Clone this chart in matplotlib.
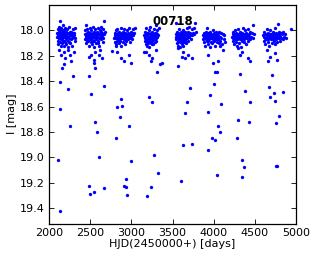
import numpy as np
import matplotlib
matplotlib.use("Agg")
import matplotlib.pyplot as plt

# light curve of star 00718, one list of (HJD-2450000, I mag) per observing season
season1 = [(2098,18.02),(2102,18.05),(2105,17.99),(2109,18.08),(2112,18.04),(2115,18.11),(2118,18.01),(2121,18.06),
           (2124,17.97),(2127,18.03),(2130,17.93),(2133,18.09),(2136,18.00),(2139,18.05),(2142,18.12),(2146,18.02),
           (2149,17.98),(2152,18.07),(2155,18.04),(2158,18.10),(2161,18.01),(2164,18.06),(2168,17.96),(2171,18.03),
           (2174,18.08),(2177,18.12),(2181,18.00),(2184,18.05),(2188,18.02),(2191,18.09),(2195,17.98),(2199,18.04),
           (2203,18.07),(2207,18.01),(2211,18.11),(2215,18.05),(2219,17.99),(2224,18.03),(2228,18.08),(2233,18.13),
           (2237,18.02),(2242,18.06),(2247,17.97),(2252,18.04),(2257,18.10),(2262,18.01),(2268,18.07),(2274,18.03),
           (2280,18.12),(2287,17.99),(2294,18.05),(2302,18.02),(2310,18.08),(2318,17.98),
           (2108,18.03),(2117,18.06),(2126,18.01),(2135,18.04),(2144,18.07),(2153,18.02),(2163,18.05),(2172,18.00),
           (2183,18.08),(2193,18.03),(2205,18.06),(2217,18.02),(2226,18.05),(2240,18.09),(2250,18.01),(2265,18.04),
           (2278,18.06),(2290,18.02),(2305,18.04),(2315,18.06),
           (2126,18.153),(2179,18.167),(2151,18.193),(2252,18.193),(2199,18.219),(2272,18.245),(2231,18.153),
           (2300,18.167),(2179,18.266),(2158,18.298),(2292,18.356),(2139,18.403),(2231,18.463),(2130,18.62),
           (2255,18.75),(2109,19.02),(2130,19.419)]

season2 = [(2432,18.03),(2436,18.07),(2440,18.00),(2446,17.96),(2449,18.05),(2453,18.10),(2457,18.02),(2461,18.06),
           (2465,17.99),(2469,18.04),(2473,18.08),(2477,18.01),(2481,18.12),(2485,18.05),(2489,18.03),(2493,17.98),
           (2497,18.07),(2501,18.02),(2505,18.09),(2509,18.04),(2513,18.00),(2517,18.06),(2521,18.11),(2525,18.03),
           (2529,17.97),(2533,18.05),(2537,18.08),(2541,18.01),(2545,18.04),(2549,18.13),(2553,18.06),(2557,18.02),
           (2561,17.99),(2565,18.07),(2569,18.04),(2573,18.10),(2577,18.01),(2581,18.05),(2586,18.03),(2590,17.98),
           (2595,18.08),(2600,18.02),(2605,18.06),(2610,18.12),(2615,18.00),(2620,18.04),(2626,17.97),(2632,18.07),
           (2638,18.02),(2644,18.05),(2650,17.99),(2656,18.09),(2662,18.03),(2669,17.93),(2676,18.01),
           (2444,18.04),(2458,18.08),(2472,18.03),(2487,18.06),(2499,18.04),(2511,18.07),(2527,18.05),(2539,18.02),
           (2551,18.08),(2563,18.03),(2575,18.06),(2588,18.04),(2598,18.10),(2612,18.03),(2624,18.06),(2636,18.01),
           (2648,18.04),(2660,18.06),
           (2483,18.206),(2516,18.193),(2564,18.167),(2605,18.193),(2625,18.153),(2544,18.232),(2645,18.219),
           (2483,18.356),(2544,18.254),(2556,18.293),(2662,18.435),(2516,18.502),(2560,18.72),(2589,18.80),
           (2608,18.994),(2491,19.222),(2665,19.24),(2495,19.287),(2544,19.274)]

season3 = [(2795,18.06),(2799,18.02),(2803,18.09),(2807,18.04),(2811,18.11),(2815,18.00),(2819,18.06),(2823,18.03),
           (2827,18.08),(2831,17.99),(2835,18.05),(2839,18.02),(2843,18.07),(2847,18.04),(2851,18.10),(2855,18.01),
           (2859,18.06),(2863,18.03),(2867,18.08),(2871,17.98),(2875,18.05),(2879,18.12),(2883,18.02),(2887,18.06),
           (2891,18.04),(2895,18.09),(2899,18.01),(2903,18.05),(2907,18.03),(2911,18.07),(2915,17.99),(2919,18.04),
           (2923,18.11),(2927,18.02),(2931,18.06),(2935,18.03),(2939,18.08),(2944,18.00),(2949,18.05),(2954,18.02),
           (2959,18.07),(2964,18.04),(2969,17.98),(2974,18.06),(2979,18.03),(2985,18.09),(2991,18.01),(2997,18.05),
           (3003,18.02),(3010,18.07),(3017,17.99),(3024,18.04),(3032,18.02),(3040,17.98),
           (2805,18.05),(2817,18.03),(2829,18.06),(2841,18.04),(2853,18.07),(2865,18.05),(2877,18.03),(2889,18.06),
           (2901,18.04),(2913,18.05),(2925,18.07),(2937,18.05),(2951,18.04),(2966,18.06),(2981,18.05),(2995,18.03),
           (2767,18.16),(2827,18.167),(2869,18.219),(2909,18.245),(2970,18.193),(2808,18.127),(2990,18.258),
           (2808,18.85),(2872,18.54),(2827,18.605),(2884,18.597),(2860,18.68),(2973,18.75),(2994,19.028),
           (2933,19.17),(2909,19.224),(2929,19.235),(2949,19.293)]

season4 = [(3158,18.04),(3162,18.08),(3166,18.01),(3170,18.06),(3174,18.11),(3178,18.03),(3182,17.98),(3186,18.07),
           (3190,18.04),(3194,18.12),(3198,18.02),(3202,18.06),(3206,18.09),(3210,18.00),(3214,18.05),(3218,18.13),
           (3222,18.03),(3226,18.08),(3230,17.97),(3234,18.06),(3238,18.10),(3242,18.02),(3246,18.05),(3250,18.08),
           (3254,18.01),(3258,18.04),(3262,18.11),(3266,18.03),(3270,18.07),(3274,17.99),(3278,18.05),(3282,18.02),
           (3286,18.09),(3290,18.04),(3295,17.96),(3300,18.06),(3305,18.02),(3310,18.05),(3316,18.00),(3322,18.04),
           (3330,17.98),
           (3164,18.05),(3176,18.08),(3188,18.02),(3200,18.10),(3212,18.07),(3224,18.05),(3236,18.03),(3248,18.11),
           (3260,18.07),(3272,18.04),(3284,18.06),(3296,18.08),(3308,18.03),
           (3173,18.167),(3213,18.193),(3253,18.219),(3294,18.153),(3234,18.245),(3152,18.167),(3217,18.526),
           (3253,18.563),(3307,18.33),(3347,18.266),(3375,18.254),(3277,18.983),(3322,19.12),(3234,19.232),
           (3192,19.305)]

season5 = [(3540,18.03),(3545,18.07),(3549,18.01),(3553,18.10),(3557,18.05),(3561,18.02),(3565,18.08),(3569,18.12),
           (3573,18.04),(3577,17.99),(3581,18.06),(3585,18.09),(3589,18.03),(3593,18.13),(3597,18.05),(3601,18.01),
           (3605,18.07),(3609,18.11),(3613,18.04),(3617,18.08),(3621,18.02),(3625,18.06),(3629,18.12),(3633,18.00),
           (3637,18.05),(3641,18.09),(3645,18.03),(3650,18.07),(3655,18.01),(3660,18.04),(3665,18.10),(3670,17.98),
           (3675,18.06),(3680,18.03),(3686,18.08),(3692,18.01),(3698,18.05),(3704,17.97),(3710,18.04),(3717,18.02),
           (3724,18.07),(3731,17.99),(3738,18.04),(3746,18.02),(3755,17.98),(3764,18.03),(3772,17.94),(3785,18.01),
           (3547,18.05),(3559,18.03),(3571,18.06),(3583,18.04),(3595,18.08),(3607,18.05),(3619,18.03),(3631,18.07),
           (3643,18.05),(3657,18.08),(3668,18.04),(3683,18.05),(3700,18.03),(3538,17.94),
           (3569,18.14),(3610,18.206),(3651,18.219),(3691,18.193),(3732,18.219),(3630,18.167),(3569,18.282),
           (3715,18.45),(3671,18.565),(3651,18.647),(3623,18.90),(3732,18.896),(3606,19.187)]

season6 = [(3866,18.04),(3872,18.07),(3878,18.02),(3884,18.09),(3890,18.05),(3896,18.12),(3902,18.01),(3908,18.06),
           (3913,17.98),(3918,18.04),(3923,18.08),(3928,18.02),(3933,18.11),(3938,18.05),(3943,18.03),(3948,18.07),
           (3953,18.13),(3958,18.01),(3963,18.05),(3968,18.09),(3973,18.03),(3978,18.06),(3983,18.10),(3988,18.00),
           (3993,18.04),(3998,18.08),(4003,18.02),(4008,18.06),(4013,18.12),(4018,18.03),(4023,18.07),(4028,18.01),
           (4033,18.05),(4038,18.09),(4043,18.02),(4049,18.06),(4055,18.04),(4061,18.10),(4067,18.01),(4073,18.05),
           (4080,18.08),(4087,18.02),(4094,18.06),(4102,18.11),(4110,18.03),(4120,18.07),(4130,18.04),(4140,18.09),
           (3881,18.05),(3893,18.03),(3905,18.07),(3920,18.05),(3935,18.08),(3950,18.04),(3965,18.06),(3980,18.04),
           (3995,18.07),(4010,18.05),(4025,18.04),(4040,18.06),(4058,18.07),
           (3934,18.193),(3995,18.258),(4056,18.245),(4117,18.153),(4077,18.127),(4016,18.33),(4040,18.33),
           (4007,18.42),(3955,18.51),(4085,18.576),(3934,18.644),(4056,18.754),(4077,18.80),(3979,18.85),
           (4016,18.862),(3927,18.943),(4040,19.14)]

season7 = [(4222,18.05),(4228,18.01),(4234,18.08),(4240,18.03),(4246,18.11),(4252,18.06),(4258,18.00),(4263,18.04),
           (4268,18.09),(4273,18.02),(4278,18.07),(4283,18.12),(4288,18.04),(4293,17.99),(4298,18.06),(4303,18.10),
           (4308,18.03),(4313,18.07),(4318,18.01),(4323,18.05),(4328,18.13),(4333,18.04),(4338,18.08),(4343,18.02),
           (4348,18.06),(4353,17.98),(4358,18.04),(4363,18.09),(4368,18.03),(4373,18.07),(4378,18.00),(4383,18.05),
           (4388,18.11),(4393,18.02),(4399,18.06),(4405,18.04),(4411,18.08),(4417,17.99),(4423,18.05),(4430,18.03),
           (4437,18.07),(4445,18.01),(4453,18.05),(4462,18.02),(4472,18.06),(4482,17.96),(4495,18.03),
           (4231,18.06),(4243,18.04),(4255,18.07),(4266,18.05),(4281,18.03),(4296,18.06),(4311,18.05),(4326,18.07),
           (4341,18.04),(4356,18.06),(4371,18.05),(4386,18.03),(4402,18.06),(4420,18.04),
           (4320,18.193),(4341,18.167),(4421,18.219),(4442,18.245),(4299,18.14),(4324,18.345),(4381,18.48),
           (4442,18.565),(4299,18.702),(4429,18.723),(4280,18.85),(4344,19.022),(4365,19.077),(4341,19.156)]

season8 = [(4600,18.04),(4606,18.08),(4612,18.01),(4618,18.06),(4624,18.11),(4630,18.03),(4636,18.07),(4642,17.99),
           (4648,18.05),(4654,18.09),(4660,18.02),(4666,18.06),(4672,18.12),(4678,18.04),(4684,18.00),(4690,18.07),
           (4696,18.03),(4702,18.10),(4708,18.05),(4714,18.01),(4720,18.06),(4726,18.08),(4732,18.03),(4738,17.98),
           (4744,18.05),(4750,18.11),(4756,18.02),(4762,18.07),(4768,18.04),(4774,18.09),(4779,17.95),(4784,18.03),
           (4790,18.06),(4796,18.01),(4802,18.05),(4808,18.08),(4815,18.02),(4822,18.06),(4830,18.03),(4838,18.07),
           (4846,18.01),(4855,18.05),(4866,18.03),(4878,18.06),
           (4609,18.05),(4621,18.03),(4633,18.06),(4645,18.04),(4657,18.07),(4669,18.05),(4681,18.03),(4693,18.05),
           (4705,18.07),(4717,18.04),(4729,18.06),(4741,18.03),(4753,18.05),(4765,18.06),(4787,18.04),(4805,18.05),
           (4940,17.99),
           (4645,18.153),(4685,18.206),(4746,18.18),(4767,18.232),(4664,18.245),(4713,18.353),(4673,18.447),
           (4730,18.494),(4847,18.487),(4689,18.526),(4749,18.557),(4794,18.676),(4758,18.73),(4754,19.07),
           (4774,19.067)]

star_id = "00718"
x_ticks = [2000, 2500, 3000, 3500, 4000, 4500, 5000]
y_ticks = [18.0, 18.2, 18.4, 18.6, 18.8, 19.0, 19.2, 19.4]

data = np.array(season1 + season2 + season3 + season4 + season5 + season6 + season7 + season8)
hjd = data[:, 0]
mag = data[:, 1]

plt.rcParams['font.family'] = 'DejaVu Sans'
plt.rcParams['font.size'] = 8

fig = plt.figure(figsize=(3.16, 2.59), dpi=100)
ax = fig.add_axes([0.155, 0.137, 0.782, 0.844])

ax.plot(hjd, mag, 'o', color='#0000ff', ms=2.4, mew=0)

ax.set_xlim(2000, 5000)
ax.set_ylim(19.52, 17.8)
ax.set_xticks(x_ticks)
ax.set_yticks(y_ticks)
ax.tick_params(direction='in', length=3.5, width=0.6, top=True, right=True, labelsize=8, pad=3)
for sp in ax.spines.values():
    sp.set_linewidth(0.9)

ax.set_xlabel("HJD(2450000+) [days]", fontsize=8, labelpad=1)
ax.set_ylabel("I [mag]", fontsize=8, labelpad=2)
ax.text(0.5, 0.925, star_id, transform=ax.transAxes, ha='center', va='center',
        fontsize=8.5, fontweight='bold')

fig.savefig("out.png", dpi=100)
